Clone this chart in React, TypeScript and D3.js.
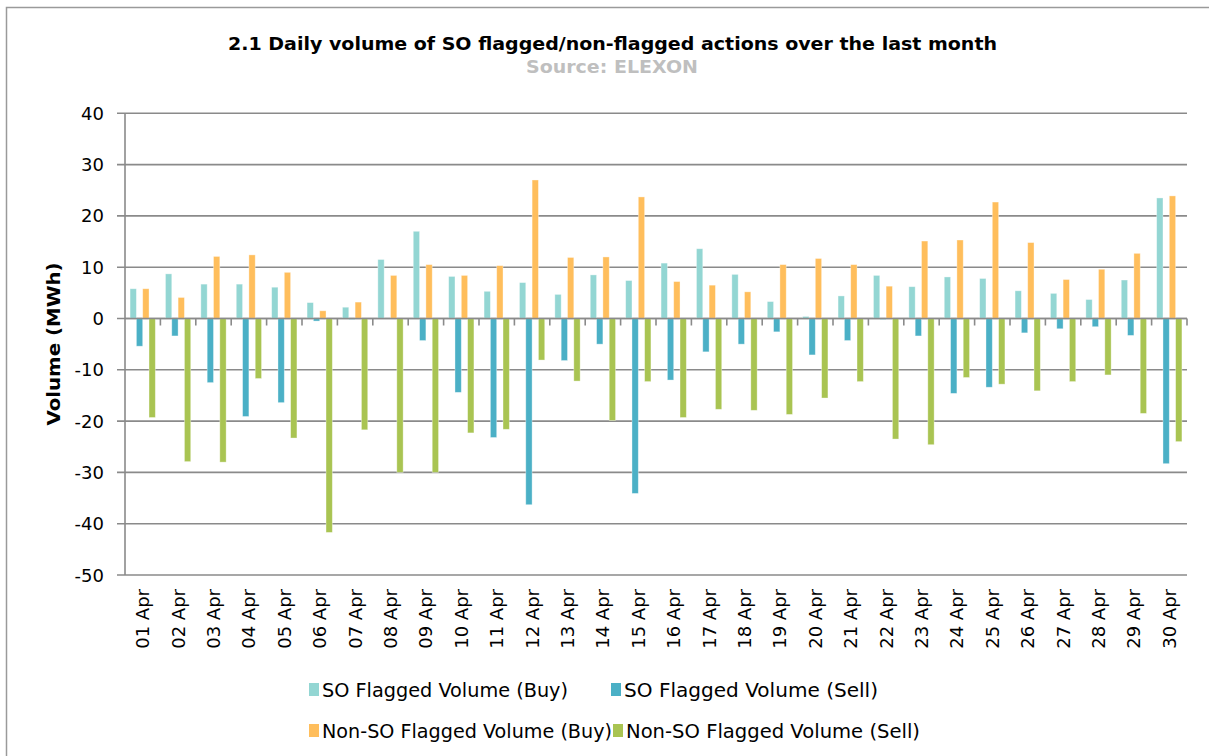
import * as d3 from "d3";
import React, { useRef, useEffect } from "react";

const days = [
  "01 Apr", "02 Apr", "03 Apr", "04 Apr", "05 Apr", "06 Apr", "07 Apr", "08 Apr", "09 Apr", "10 Apr",
  "11 Apr", "12 Apr", "13 Apr", "14 Apr", "15 Apr", "16 Apr", "17 Apr", "18 Apr", "19 Apr", "20 Apr",
  "21 Apr", "22 Apr", "23 Apr", "24 Apr", "25 Apr", "26 Apr", "27 Apr", "28 Apr", "29 Apr", "30 Apr",
];

const soBuy = [5.8, 8.7, 6.7, 6.7, 6.1, 3.1, 2.2, 11.5, 17.0, 8.2, 5.3, 7.0, 4.7, 8.5, 7.4, 10.8, 13.6, 8.6, 3.3, 0.4, 4.4, 8.4, 6.2, 8.1, 7.8, 5.4, 4.9, 3.7, 7.5, 23.5];
const soSell = [-5.4, -3.4, -12.5, -19.1, -16.4, -0.5, -0.2, 0, -4.3, -14.4, -23.2, -36.3, -8.2, -5.0, -34.1, -12.0, -6.5, -5.0, -2.6, -7.1, -4.3, -0.2, -3.4, -14.6, -13.4, -2.8, -2.0, -1.6, -3.3, -28.3];
const nonSoBuy = [5.8, 4.1, 12.1, 12.4, 9.0, 1.5, 3.2, 8.4, 10.5, 8.4, 10.3, 27.0, 11.9, 12.0, 23.7, 7.2, 6.5, 5.2, 10.5, 11.7, 10.5, 6.3, 15.1, 15.3, 22.7, 14.8, 7.6, 9.6, 12.7, 23.9];
const nonSoSell = [-19.3, -27.9, -28.0, -11.7, -23.3, -41.7, -21.7, -30.0, -30.0, -22.3, -21.6, -8.1, -12.2, -19.9, -12.3, -19.3, -17.7, -17.9, -18.7, -15.5, -12.3, -23.5, -24.6, -11.5, -12.8, -14.1, -12.3, -11.0, -18.5, -24.0];

const seriesNames = [
  "SO Flagged Volume (Buy)",
  "SO Flagged Volume (Sell)",
  "Non-SO Flagged Volume (Buy)",
  "Non-SO Flagged Volume (Sell)",
];
const seriesValues = [soBuy, soSell, nonSoBuy, nonSoSell];
const colors = ["#93d6d3", "#4bb0c6", "#ffbe5c", "#a9c452"];

const yTicks = [-50, -40, -30, -20, -10, 0, 10, 20, 30, 40];

const FONT = "'DejaVu Sans', Verdana, sans-serif";

function Chart() {
  const ref = useRef<SVGSVGElement>(null);
  const width = 1209;
  const height = 756;
  const left = 125;
  const right = 1187;
  const top = 113.3;
  const bottom = 575;

  useEffect(() => {
    const svg = d3.select(ref.current);
    svg.selectAll("*").remove();

    const x = d3.scaleBand().domain(days).range([left, right]).padding(0);
    const xs = d3
      .scaleBand()
      .domain(seriesNames)
      .range([0, x.bandwidth()])
      .paddingInner(0)
      .paddingOuter(0.8);
    const y = d3.scaleLinear().domain([-50, 40]).range([bottom, top]);

    // outer frame
    svg
      .append("rect")
      .attr("x", 6.5)
      .attr("y", 7.5)
      .attr("width", width + 10)
      .attr("height", height + 10)
      .attr("fill", "none")
      .attr("stroke", "#9a9a9a")
      .attr("stroke-width", 1.5);

    // title
    svg
      .append("text")
      .attr("x", 612.5)
      .attr("y", 50)
      .attr("text-anchor", "middle")
      .attr("font-family", FONT)
      .attr("font-weight", "bold")
      .attr("font-size", 17)
      .attr("textLength", 769)
      .attr("lengthAdjust", "spacingAndGlyphs")
      .attr("fill", "#000")
      .text("2.1 Daily volume of SO flagged/non-flagged actions over the last month");

    svg
      .append("text")
      .attr("x", 612)
      .attr("y", 73)
      .attr("text-anchor", "middle")
      .attr("font-family", FONT)
      .attr("font-weight", "bold")
      .attr("font-size", 17)
      .attr("textLength", 172)
      .attr("lengthAdjust", "spacingAndGlyphs")
      .attr("fill", "#bfbfbf")
      .text("Source: ELEXON");

    // gridlines
    svg
      .append("g")
      .selectAll("line")
      .data(yTicks)
      .enter()
      .append("line")
      .attr("x1", left - 8)
      .attr("x2", right)
      .attr("y1", (d) => y(d))
      .attr("y2", (d) => y(d))
      .attr("stroke", "#8a8a8a")
      .attr("stroke-width", 1.6);

    // y axis line
    svg
      .append("line")
      .attr("x1", left)
      .attr("x2", left)
      .attr("y1", top)
      .attr("y2", bottom)
      .attr("stroke", "#8a8a8a")
      .attr("stroke-width", 1.6);

    // y tick labels
    svg
      .append("g")
      .selectAll("text")
      .data(yTicks)
      .enter()
      .append("text")
      .attr("x", 104)
      .attr("y", (d) => y(d) + 6.5)
      .attr("text-anchor", "end")
      .attr("font-family", FONT)
      .attr("font-size", 18)
      .attr("fill", "#000")
      .text((d) => d);

    // y title
    svg
      .append("text")
      .attr("transform", "translate(60, 344) rotate(-90)")
      .attr("text-anchor", "middle")
      .attr("font-family", FONT)
      .attr("font-weight", "bold")
      .attr("font-size", 17)
      .attr("textLength", 163)
      .attr("lengthAdjust", "spacingAndGlyphs")
      .attr("fill", "#000")
      .text("Volume (MWh)");

    // bars
    seriesNames.forEach((name, si) => {
      svg
        .append("g")
        .selectAll("rect")
        .data(seriesValues[si])
        .enter()
        .append("rect")
        .attr("x", (d, i) => (x(days[i]) as number) + (xs(name) as number))
        .attr("y", (d) => y(Math.max(0, d)))
        .attr("width", xs.bandwidth())
        .attr("height", (d) => Math.abs(y(d) - y(0)))
        .attr("fill", colors[si])
        .attr("stroke", "rgba(255,255,255,0.45)")
        .attr("stroke-width", 0.8);
    });

    // zero line redrawn over bars plus category ticks
    const y0 = y(0);
    svg
      .append("line")
      .attr("x1", left)
      .attr("x2", right)
      .attr("y1", y0)
      .attr("y2", y0)
      .attr("stroke", "#8a8a8a")
      .attr("stroke-width", 1.6);

    svg
      .append("g")
      .selectAll("line")
      .data(days)
      .enter()
      .append("line")
      .attr("x1", (d) => (x(d) as number) + x.bandwidth())
      .attr("x2", (d) => (x(d) as number) + x.bandwidth())
      .attr("y1", y0)
      .attr("y2", y0 + 7)
      .attr("stroke", "#8a8a8a")
      .attr("stroke-width", 1.6);

    // x labels
    svg
      .append("g")
      .selectAll("text")
      .data(days)
      .enter()
      .append("text")
      .attr(
        "transform",
        (d) => `translate(${(x(d) as number) + x.bandwidth() / 2 + 6.5}, 589) rotate(-90)`
      )
      .attr("text-anchor", "end")
      .attr("font-family", FONT)
      .attr("font-size", 18)
      .attr("fill", "#000")
      .text((d) => d);

    // legend
    const legendItems = [
      { x: 309, y: 690, i: 0, w: 246 },
      { x: 611, y: 690, i: 1, w: 254 },
      { x: 309, y: 731, i: 2, w: 290 },
      { x: 613, y: 731, i: 3, w: 294 },
    ];
    const lg = svg.append("g");
    legendItems.forEach((it) => {
      lg.append("rect")
        .attr("x", it.x)
        .attr("y", it.y - 7)
        .attr("width", 10)
        .attr("height", 13)
        .attr("fill", colors[it.i]);
      lg.append("text")
        .attr("x", it.x + 13)
        .attr("y", it.y + 7)
        .attr("font-family", FONT)
        .attr("font-size", 19)
        .attr("textLength", it.w)
        .attr("lengthAdjust", "spacingAndGlyphs")
        .attr("fill", "#000")
        .text(seriesNames[it.i]);
    });
  }, []);

  return (
    <svg
      ref={ref}
      width={width}
      height={height}
      style={{ position: "absolute", left: 0, top: 0, background: "#fff" }}
    ></svg>
  );
}

export default function App() {
  return <Chart />;
}
